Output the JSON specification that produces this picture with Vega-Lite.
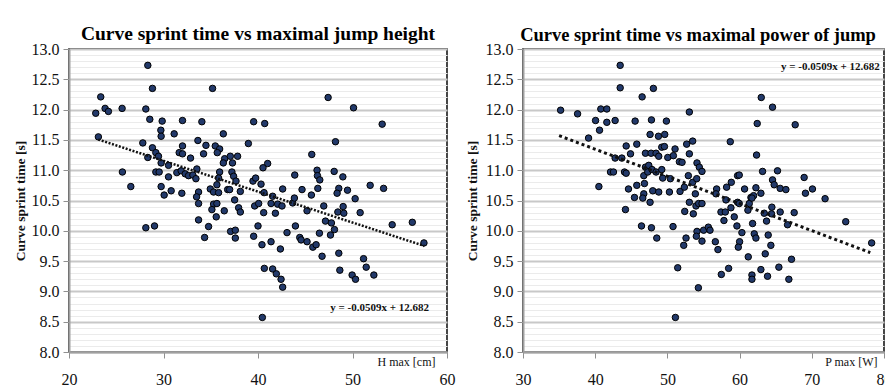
{
  "$schema": "https://vega.github.io/schema/vega-lite/v6.json",
  "background": "white",
  "padding": {"left": 12, "top": 22, "right": 0, "bottom": 0},
  "spacing": 8,
  "config": {
    "font": "Liberation Serif",
    "view": {"stroke": "#1a1a1a", "strokeWidth": 1.6},
    "title": {"fontSize": 19.5, "fontWeight": "bold", "color": "#000", "offset": -3, "font": "Liberation Serif"},
    "axis": {
      "labelFont": "Liberation Serif",
      "titleFont": "Liberation Serif",
      "labelColor": "#111",
      "titleColor": "#111",
      "labelFontSize": 16,
      "domainColor": "#a0a0a0",
      "domainWidth": 2,
      "tickColor": "#909090",
      "tickSize": 6,
      "labelOverlap": false,
      "labelFlush": false
    }
  },
  "datasets": {
    "left": [
      {"h":28.34,"t":12.73},{"h":28.83,"t":12.35},{"h":35.19,"t":12.35},{"h":23.36,"t":12.21},{"h":23.82,"t":12.02},
      {"h":24.17,"t":11.97},{"h":22.83,"t":11.94},{"h":25.62,"t":12.02},{"h":28.13,"t":12.01},{"h":28.55,"t":11.84},
      {"h":29.86,"t":11.81},{"h":32.01,"t":11.82},{"h":34.06,"t":11.80},{"h":39.54,"t":11.80},{"h":40.71,"t":11.77},
      {"h":47.42,"t":12.20},{"h":50.11,"t":12.03},{"h":53.14,"t":11.76},{"h":29.72,"t":11.66},{"h":29.75,"t":11.56},
      {"h":31.13,"t":11.60},{"h":36.33,"t":11.60},{"h":33.64,"t":11.49},{"h":23.11,"t":11.55},{"h":27.81,"t":11.45},
      {"h":28.83,"t":11.37},{"h":28.34,"t":11.21},{"h":29.19,"t":11.29},{"h":29.47,"t":11.23},{"h":29.75,"t":11.12},
      {"h":32.01,"t":11.40},{"h":31.66,"t":11.29},{"h":32.01,"t":11.27},{"h":34.49,"t":11.41},{"h":34.24,"t":11.27},
      {"h":35.48,"t":11.40},{"h":35.94,"t":11.35},{"h":35.69,"t":11.29},{"h":32.86,"t":11.20},{"h":36.47,"t":11.19},
      {"h":37.07,"t":11.23},{"h":37.84,"t":11.23},{"h":36.33,"t":11.12},{"h":37.30,"t":11.12},{"h":38.98,"t":11.44},
      {"h":41.02,"t":11.11},{"h":40.53,"t":11.04},{"h":45.69,"t":11.26},{"h":48.20,"t":11.47},{"h":25.65,"t":10.97},
      {"h":26.54,"t":10.73},{"h":29.19,"t":10.97},{"h":29.54,"t":10.97},{"h":30.53,"t":11.08},{"h":31.41,"t":10.96},
      {"h":31.87,"t":10.99},{"h":32.30,"t":10.94},{"h":32.65,"t":10.91},{"h":33.11,"t":10.92},{"h":33.53,"t":11.02},
      {"h":33.43,"t":10.86},{"h":30.53,"t":10.89},{"h":29.75,"t":10.73},{"h":30.07,"t":10.59},{"h":30.81,"t":10.66},
      {"h":31.94,"t":10.62},{"h":33.71,"t":10.64},{"h":33.50,"t":10.56},{"h":34.95,"t":10.69},{"h":35.30,"t":10.64},
      {"h":35.83,"t":10.63},{"h":35.65,"t":10.76},{"h":35.94,"t":10.97},{"h":35.83,"t":10.87},{"h":37.24,"t":10.97},
      {"h":37.42,"t":10.90},{"h":37.67,"t":10.82},{"h":36.79,"t":10.68},{"h":37.00,"t":10.68},{"h":38.13,"t":10.65},
      {"h":37.53,"t":10.51},{"h":39.47,"t":10.82},{"h":39.75,"t":10.87},{"h":40.32,"t":10.77},{"h":40.64,"t":10.63},
      {"h":41.55,"t":10.57},{"h":42.61,"t":10.69},{"h":43.89,"t":10.92},{"h":44.66,"t":10.68},{"h":45.65,"t":10.59},
      {"h":46.25,"t":11.00},{"h":46.29,"t":10.91},{"h":46.54,"t":10.84},{"h":46.33,"t":10.70},{"h":48.06,"t":10.98},
      {"h":48.98,"t":10.89},{"h":48.55,"t":10.70},{"h":48.37,"t":10.62},{"h":49.47,"t":10.67},{"h":50.28,"t":10.53},
      {"h":51.87,"t":10.75},{"h":53.29,"t":10.70},
      {"h":33.71,"t":10.45},{"h":35.30,"t":10.44},{"h":35.65,"t":10.45},{"h":35.12,"t":10.35},{"h":36.43,"t":10.33},
      {"h":35.58,"t":10.23},{"h":37.95,"t":10.38},{"h":38.13,"t":10.31},{"h":33.71,"t":10.18},{"h":34.77,"t":10.07},
      {"h":34.35,"t":9.89},{"h":28.13,"t":10.05},{"h":29.05,"t":10.08},{"h":37.10,"t":9.99},{"h":37.60,"t":10.01},
      {"h":37.60,"t":9.88},{"h":39.65,"t":10.41},{"h":40.07,"t":10.45},{"h":40.60,"t":10.30},{"h":40.00,"t":10.08},
      {"h":39.54,"t":9.91},{"h":40.42,"t":9.77},{"h":41.38,"t":10.45},{"h":42.08,"t":10.44},{"h":42.54,"t":10.41},
      {"h":41.84,"t":10.29},{"h":41.38,"t":9.82},{"h":42.37,"t":9.70},{"h":43.67,"t":10.46},{"h":43.85,"t":10.54},
      {"h":43.07,"t":9.97},{"h":43.96,"t":10.08},{"h":45.19,"t":10.33},{"h":44.42,"t":9.89},{"h":44.56,"t":9.85},
      {"h":45.19,"t":9.82},{"h":45.80,"t":9.73},{"h":46.15,"t":9.77},{"h":46.50,"t":9.96},{"h":46.78,"t":9.58},
      {"h":46.96,"t":10.41},{"h":47.14,"t":10.16},{"h":47.77,"t":10.13},{"h":48.09,"t":10.02},{"h":47.67,"t":9.93},
      {"h":48.55,"t":9.63},{"h":48.66,"t":9.35},{"h":48.45,"t":10.31},{"h":49.01,"t":10.40},{"h":49.08,"t":10.29},
      {"h":50.81,"t":10.30},{"h":49.96,"t":9.27},{"h":50.32,"t":9.20},{"h":51.17,"t":9.54},{"h":51.45,"t":9.40},
      {"h":52.26,"t":9.27},{"h":54.20,"t":10.10},{"h":56.33,"t":10.14},{"h":57.56,"t":9.80},{"h":40.67,"t":9.38},
      {"h":41.55,"t":9.37},{"h":41.94,"t":9.29},{"h":42.44,"t":9.20},{"h":42.61,"t":9.07},{"h":40.46,"t":8.57}
    ],
    "right": [
      {"p":43.46,"t":12.73},{"p":43.46,"t":12.36},{"p":48.06,"t":12.35},{"p":46.50,"t":12.21},{"p":63.00,"t":12.20},
      {"p":64.56,"t":12.04},{"p":35.21,"t":11.99},{"p":37.56,"t":11.93},{"p":40.78,"t":12.01},{"p":41.61,"t":12.01},
      {"p":40.05,"t":11.82},{"p":40.60,"t":11.66},{"p":41.61,"t":11.79},{"p":42.76,"t":11.82},{"p":45.53,"t":11.81},
      {"p":47.79,"t":11.83},{"p":49.86,"t":11.81},{"p":53.04,"t":11.96},{"p":62.44,"t":11.77},{"p":67.70,"t":11.75},
      {"p":39.08,"t":11.53},{"p":47.60,"t":11.59},{"p":48.76,"t":11.56},{"p":49.63,"t":11.59},{"p":58.71,"t":11.47},
      {"p":44.29,"t":11.40},{"p":45.76,"t":11.43},{"p":44.89,"t":11.27},{"p":42.76,"t":11.20},{"p":43.69,"t":11.20},
      {"p":46.96,"t":11.28},{"p":47.74,"t":11.28},{"p":48.43,"t":11.28},{"p":49.22,"t":11.38},{"p":49.59,"t":11.39},
      {"p":48.80,"t":11.23},{"p":50.05,"t":11.21},{"p":50.83,"t":11.24},{"p":51.06,"t":11.35},{"p":51.66,"t":11.14},
      {"p":52.03,"t":11.13},{"p":52.67,"t":11.43},{"p":53.50,"t":11.48},{"p":53.04,"t":11.27},{"p":54.10,"t":11.12},
      {"p":54.42,"t":11.05},{"p":54.79,"t":10.98},{"p":62.35,"t":11.25},{"p":63.18,"t":10.98},{"p":65.25,"t":10.99},
      {"p":42.12,"t":10.97},{"p":42.53,"t":10.97},{"p":44.06,"t":10.97},{"p":44.29,"t":10.95},{"p":40.51,"t":10.73},
      {"p":44.61,"t":10.69},{"p":45.44,"t":10.55},{"p":45.76,"t":10.75},{"p":46.73,"t":10.91},{"p":46.96,"t":11.05},
      {"p":47.42,"t":11.08},{"p":47.28,"t":10.97},{"p":47.88,"t":11.01},{"p":48.43,"t":10.97},{"p":49.22,"t":11.01},
      {"p":49.35,"t":10.87},{"p":50.41,"t":10.86},{"p":46.82,"t":10.78},{"p":46.73,"t":10.61},{"p":47.97,"t":10.66},
      {"p":48.80,"t":10.64},{"p":50.28,"t":10.64},{"p":51.75,"t":10.65},{"p":52.35,"t":10.72},{"p":52.90,"t":10.91},
      {"p":53.50,"t":10.80},{"p":54.06,"t":10.86},{"p":53.87,"t":10.61},{"p":56.82,"t":10.69},{"p":56.73,"t":10.61},
      {"p":58.20,"t":10.72},{"p":58.85,"t":10.80},{"p":59.72,"t":10.91},{"p":59.95,"t":10.92},{"p":60.69,"t":10.69},
      {"p":62.26,"t":10.71},{"p":62.95,"t":10.62},{"p":64.56,"t":10.84},{"p":64.79,"t":10.76},{"p":65.62,"t":10.70},
      {"p":66.41,"t":10.68},{"p":68.94,"t":10.88},{"p":69.12,"t":10.62},{"p":70.09,"t":10.69},{"p":71.84,"t":10.53},
      {"p":58.11,"t":10.51},{"p":59.72,"t":10.47},{"p":61.57,"t":10.55},{"p":61.94,"t":10.58},{"p":47.60,"t":10.47},
      {"p":53.04,"t":10.47},
      {"p":44.19,"t":10.35},{"p":46.59,"t":10.54},{"p":46.41,"t":10.08},{"p":47.79,"t":10.05},{"p":48.53,"t":9.88},
      {"p":50.78,"t":10.07},{"p":51.43,"t":9.39},{"p":51.11,"t":8.57},{"p":52.40,"t":10.32},{"p":52.58,"t":9.88},
      {"p":52.26,"t":9.76},{"p":53.59,"t":10.28},{"p":53.96,"t":10.41},{"p":54.33,"t":10.45},{"p":54.79,"t":10.45},
      {"p":54.10,"t":9.99},{"p":54.01,"t":9.91},{"p":54.79,"t":9.83},{"p":55.02,"t":10.01},{"p":55.67,"t":10.06},
      {"p":55.90,"t":10.01},{"p":54.29,"t":9.06},{"p":56.64,"t":9.82},{"p":57.00,"t":9.69},{"p":57.47,"t":9.28},
      {"p":58.48,"t":9.38},{"p":57.42,"t":10.31},{"p":58.02,"t":10.31},{"p":57.83,"t":10.17},{"p":58.80,"t":10.38},
      {"p":59.26,"t":10.23},{"p":59.63,"t":10.08},{"p":59.95,"t":10.45},{"p":60.32,"t":9.97},{"p":60.00,"t":9.82},
      {"p":59.82,"t":9.73},{"p":61.20,"t":9.57},{"p":61.15,"t":10.34},{"p":61.34,"t":10.45},{"p":61.71,"t":10.54},
      {"p":61.80,"t":10.12},{"p":62.03,"t":9.95},{"p":62.26,"t":9.88},{"p":61.71,"t":9.27},{"p":61.71,"t":9.20},
      {"p":62.95,"t":9.36},{"p":63.55,"t":9.62},{"p":63.41,"t":10.29},{"p":63.73,"t":10.16},{"p":63.96,"t":9.93},
      {"p":63.87,"t":9.25},{"p":64.47,"t":10.39},{"p":64.42,"t":10.28},{"p":64.33,"t":9.76},{"p":65.44,"t":9.40},
      {"p":65.62,"t":10.31},{"p":66.64,"t":10.10},{"p":66.82,"t":9.20},{"p":67.19,"t":9.53},{"p":67.56,"t":10.30},
      {"p":74.70,"t":10.15},{"p":78.29,"t":9.80}
    ],
    "trendL": [{"h":23.1,"t":11.506},{"h":57.6,"t":9.750}],
    "trendR": [{"p":35.0,"t":11.57},{"p":78.1,"t":9.64}],
    "eqL": [{"h":58.1,"t":8.73,"label":"y = -0.0509x + 12.682"}],
    "eqR": [{"p":79.4,"t":12.70,"label":"y = -0.0509x + 12.682"}]
  },
  "hconcat": [
    {
      "width": 378,
      "height": 303,
      "title": {"text": "Curve sprint time vs maximal jump height"},
      "encoding": {
        "x": {"field": "h", "type": "quantitative",
          "scale": {"domain": [20, 60], "nice": false, "zero": false},
          "axis": {"values": [20, 30, 40, 50, 60], "grid": false, "labelPadding": 13,
            "title": "H max [cm]", "titleFontSize": 12, "titleFontWeight": "normal",
            "titleAlign": "right", "titleBaseline": "middle", "titleX": 366, "titleY": 9}},
        "y": {"field": "t", "type": "quantitative",
          "scale": {"domain": [8, 13], "nice": false, "zero": false},
          "axis": {"tickCount": 50, "grid": true, "labelPadding": 4,
            "labelExpr": "abs(datum.value*2 - round(datum.value*2)) < 0.001 ? format(datum.value, '.1f') : ''",
            "gridColor": {"condition": {"test": "abs(datum.value*2 - round(datum.value*2)) < 0.001", "value": "#c8c8c8"}, "value": "#ebebeb"},
            "gridWidth": {"condition": {"test": "abs(datum.value*2 - round(datum.value*2)) < 0.001", "value": 1.8}, "value": 1},
            "tickOpacity": {"condition": {"test": "abs(datum.value*2 - round(datum.value*2)) < 0.001", "value": 1}, "value": 0},
            "title": "Curve sprint time [s]", "titleFontSize": 13.5, "titleFontWeight": "bold",
            "titleBaseline": "middle", "titleX": -49, "titleY": 151.5}}
      },
      "layer": [
        {"data": {"name": "left"},
         "mark": {"type": "circle", "size": 42, "fill": "#22396a", "stroke": "#000", "strokeWidth": 1, "opacity": 1}},
        {"data": {"name": "trendL"},
         "mark": {"type": "line", "color": "#111", "strokeWidth": 2.5, "strokeDash": [2, 1.6]}},
        {"data": {"name": "eqL"},
         "mark": {"type": "text", "align": "right", "baseline": "middle", "fontWeight": "bold", "fontSize": 11, "font": "Liberation Serif", "color": "#111"},
         "encoding": {"text": {"field": "label", "type": "nominal"}}}
      ]
    },
    {
      "width": 361,
      "height": 303,
      "title": {"text": "Curve sprint time vs maximal power of jump", "dx": -5.5, "fontSize": 18.5},
      "encoding": {
        "x": {"field": "p", "type": "quantitative",
          "scale": {"domain": [30, 80], "nice": false, "zero": false},
          "axis": {"values": [30, 40, 50, 60, 70, 80], "grid": false, "labelPadding": 13,
            "title": "P max [W]", "titleFontSize": 12, "titleFontWeight": "normal",
            "titleAlign": "right", "titleBaseline": "middle", "titleX": 354, "titleY": 9}},
        "y": {"field": "t", "type": "quantitative",
          "scale": {"domain": [8, 13], "nice": false, "zero": false},
          "axis": {"tickCount": 50, "grid": true, "labelPadding": 4,
            "labelExpr": "abs(datum.value*2 - round(datum.value*2)) < 0.001 ? format(datum.value, '.1f') : ''",
            "gridColor": {"condition": {"test": "abs(datum.value*2 - round(datum.value*2)) < 0.001", "value": "#c8c8c8"}, "value": "#ebebeb"},
            "gridWidth": {"condition": {"test": "abs(datum.value*2 - round(datum.value*2)) < 0.001", "value": 1.8}, "value": 1},
            "tickOpacity": {"condition": {"test": "abs(datum.value*2 - round(datum.value*2)) < 0.001", "value": 1}, "value": 0},
            "title": "Curve sprint time [s]", "titleFontSize": 13.5, "titleFontWeight": "bold",
            "titleBaseline": "middle", "titleX": -51, "titleY": 151.5}}
      },
      "layer": [
        {"data": {"name": "right"},
         "mark": {"type": "circle", "size": 42, "fill": "#22396a", "stroke": "#000", "strokeWidth": 1, "opacity": 1}},
        {"data": {"name": "trendR"},
         "mark": {"type": "line", "color": "#111", "strokeWidth": 3, "strokeDash": [3, 3]}},
        {"data": {"name": "eqR"},
         "mark": {"type": "text", "align": "right", "baseline": "middle", "fontWeight": "bold", "fontSize": 11, "font": "Liberation Serif", "color": "#111"},
         "encoding": {"text": {"field": "label", "type": "nominal"}}}
      ]
    }
  ]
}
